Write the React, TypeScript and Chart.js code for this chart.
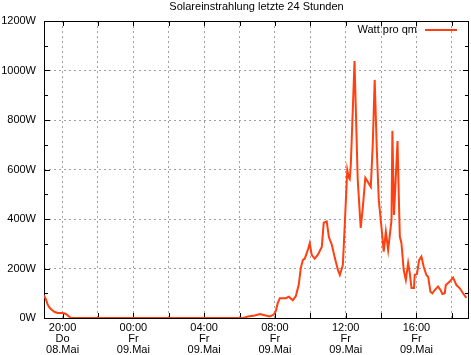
import React, { useEffect, useRef } from "react";
import { Chart, registerables } from "chart.js";

Chart.register(...registerables);

// hours relative to Thu 08.05. 20:00
const hours = [
  -1.06, -0.94, -0.83, -0.72, -0.6, -0.44, -0.27, -0.04, 0.13, 0.24, 0.36, 0.47,
  10.24, 10.47, 10.86, 11.15, 11.37, 11.71, 11.94, 12.05, 12.16, 12.28, 12.62, 12.79,
  13.01, 13.18, 13.35, 13.46, 13.58, 13.69, 13.86, 13.97, 14.08, 14.25, 14.42, 14.65,
  14.76, 14.93, 15.05, 15.22, 15.39, 15.56, 15.67, 15.84, 15.95, 16.09, 16.18, 16.23,
  16.29, 16.5, 16.68, 16.85, 16.97, 17.11, 17.25, 17.42, 17.53, 17.64, 17.76, 17.87,
  18.02, 18.15, 18.27, 18.4, 18.59, 18.64, 18.73, 18.93, 19.0, 19.06, 19.15, 19.28,
  19.4, 19.53, 19.62, 19.72, 19.86, 19.9, 20.03, 20.15, 20.28, 20.41, 20.56, 20.66,
  20.79, 20.9, 21.03, 21.22, 21.36, 21.47, 21.6, 21.66, 21.88, 22.07, 22.26, 22.45,
  22.63, 22.82,
];
const watts = [
  92, 75, 52, 40, 32, 24, 20, 20, 18, 14, 6, 0,
  0, 6, 10, 16, 12, 6, 14, 28, 60, 80, 80, 86,
  72, 88, 135, 200, 234, 240, 275, 303, 255, 240, 255, 287,
  385, 390, 327, 295, 242, 194, 174, 214, 380, 598, 566, 561,
  618, 1038, 560, 364, 448, 566, 550, 530, 700, 962, 679, 477,
  369, 268, 349, 275, 396, 756, 416, 715, 500, 329, 303, 194,
  154, 222, 182, 121, 121, 174, 178, 234, 248, 207, 174, 167,
  106, 100, 113, 127, 113, 97, 100, 133, 147, 163, 133, 120,
  100, 81,
];

const gridHours = [0, 2, 4, 6, 8, 10, 12, 14, 16, 18, 20, 22];
const labelHours = [0, 4, 8, 12, 16, 20];
const tickLabels = [
  ["20:00", "Do", "08.Mai"],
  ["00:00", "Fr", "09.Mai"],
  ["04:00", "Fr", "09.Mai"],
  ["08:00", "Fr", "09.Mai"],
  ["12:00", "Fr", "09.Mai"],
  ["16:00", "Fr", "09.Mai"],
];
const seriesName = "Watt pro qm";
const titleText = "Solareinstrahlung letzte 24 Stunden";
const FONT = '"Liberation Sans", Arial, Helvetica, sans-serif';
const LINE_COLOR = "#ff4010";

const framePlugin = {
  id: "frame",
  beforeDatasetsDraw(chart: any) {
    const { ctx, chartArea: a, scales } = chart;
    const xs = scales.x, ys = scales.y;
    ctx.save();
    ctx.strokeStyle = "#000";
    ctx.lineWidth = 1;
    ctx.beginPath();
    // frame
    ctx.rect(Math.round(a.left) + 0.5, Math.round(a.top) + 0.5, Math.round(a.right - a.left) - 1, Math.round(a.bottom - a.top));
    // x ticks
    gridHours.forEach((h) => {
      const px = Math.round(xs.getPixelForValue(h)) + 0.5;
      ctx.moveTo(px, a.bottom);
      ctx.lineTo(px, a.bottom - 5);
      ctx.moveTo(px, a.top);
      ctx.lineTo(px, a.top + 5);
    });
    // y ticks
    for (let v = 0; v <= 1200; v += 100) {
      const py = Math.round(ys.getPixelForValue(v)) + 0.5;
      const len = v % 200 === 0 ? 6 : 4;
      ctx.moveTo(a.left, py);
      ctx.lineTo(a.left + len, py);
      ctx.moveTo(a.right, py);
      ctx.lineTo(a.right - len, py);
    }
    ctx.stroke();
    ctx.restore();
  },
  afterDraw(chart: any) {
    const { ctx, chartArea: a } = chart;
    ctx.save();
    ctx.fillStyle = "#000";
    ctx.font = "11px " + FONT;
    ctx.textAlign = "center";
    ctx.textBaseline = "alphabetic";
    ctx.fillText(titleText, (a.left + a.right) / 2, 10);
    // legend
    ctx.textAlign = "right";
    ctx.textBaseline = "middle";
    ctx.fillText(seriesName, 417, 30);
    ctx.strokeStyle = LINE_COLOR;
    ctx.lineWidth = 2;
    ctx.beginPath();
    ctx.moveTo(425, 30);
    ctx.lineTo(457, 30);
    ctx.stroke();
    ctx.restore();
  },
};

export default function App() {
  const ref = useRef<HTMLCanvasElement>(null);
  useEffect(() => {
    document.body.style.margin = "0";
    const chart = new Chart(ref.current!, {
      type: "line",
      data: {
        datasets: [
          {
            label: seriesName,
            data: hours.map((h, i) => ({ x: h, y: watts[i] })),
            borderColor: LINE_COLOR,
            backgroundColor: LINE_COLOR,
            borderWidth: 2,
            pointRadius: 0,
            tension: 0,
            fill: false,
          },
        ],
      },
      options: {
        animation: false,
        responsive: false,
        devicePixelRatio: 1,
        layout: { padding: { top: 21, right: 2, left: 0, bottom: 0 } },
        plugins: { legend: { display: false }, title: { display: false }, tooltip: { enabled: false } },
        scales: {
          x: {
            type: "linear",
            min: -1.05,
            max: 22.97,
            afterBuildTicks: (s: any) => {
              s.ticks = gridHours.map((v) => ({ value: v }));
            },
            afterFit: (s: any) => {
              s.height = 37;
            },
            grid: { color: "#a0a0a0", lineWidth: 1, drawTicks: false },
            border: { display: false, dash: [2, 3] },
            ticks: {
              autoSkip: false,
              maxRotation: 0,
              padding: 4,
              color: "#000",
              font: { family: FONT, size: 11, lineHeight: 1.03 },
              callback: (v: any) => {
                const i = labelHours.indexOf(Number(v));
                return i >= 0 ? tickLabels[i] : "";
              },
            },
          },
          y: {
            min: 0,
            max: 1200,
            afterFit: (s: any) => {
              s.width = 44;
            },
            grid: { color: "#a0a0a0", lineWidth: 1, drawTicks: false },
            border: { display: false, dash: [2, 3] },
            ticks: {
              stepSize: 200,
              padding: 8,
              color: "#000",
              font: { family: FONT, size: 11 },
              callback: (v: any) => v + "W",
            },
          },
        },
      },
      plugins: [framePlugin],
    });
    return () => chart.destroy();
  }, []);
  return (
    <div style={{ width: 471, height: 355 }}>
      <canvas ref={ref} width={471} height={355} />
    </div>
  );
}
